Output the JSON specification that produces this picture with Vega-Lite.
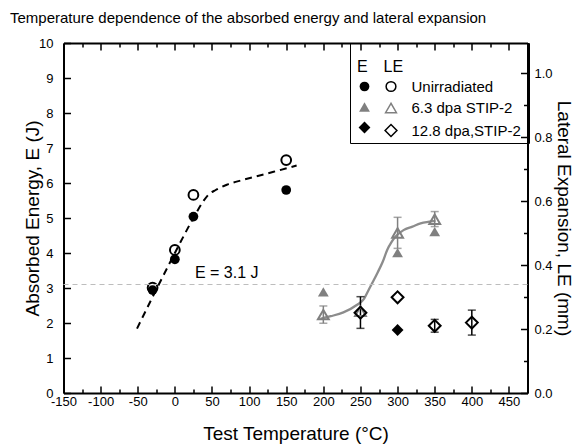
{
  "$schema": "https://vega.github.io/schema/vega-lite/v6.json",
  "width": 464,
  "height": 350,
  "autosize": {"type": "none"},
  "padding": {"left": 63.5, "top": 43, "right": 58.5, "bottom": 53},
  "background": "white",
  "config": {
    "font": "Liberation Sans",
    "view": {"stroke": null},
    "axis": {"grid": false, "domainColor": "black", "tickColor": "black", "labelColor": "black", "titleColor": "black", "titleFontWeight": "normal", "labelFont": "Liberation Sans", "titleFont": "Liberation Sans"},
    "legend": {"labelFont": "Liberation Sans", "titleFont": "Liberation Sans", "labelColor": "black", "titleColor": "black"}
  },
  "title": {"text": "Temperature dependence of the absorbed energy and lateral expansion", "anchor": "start", "frame": "group", "fontSize": 15, "fontWeight": "normal", "dx": -53.5, "dy": 21, "offset": 20, "baseline": "alphabetic", "color": "black"},
  "datasets": {
    "ePts": [
      {"T": -30, "E": 2.94, "series": "Unirradiated"},
      {"T": 0, "E": 3.82, "series": "Unirradiated"},
      {"T": 25, "E": 5.04, "series": "Unirradiated"},
      {"T": 150, "E": 5.8, "series": "Unirradiated"},
      {"T": 200, "E": 2.89, "series": "6.3 dpa STIP-2"},
      {"T": 300, "E": 4.01, "series": "6.3 dpa STIP-2"},
      {"T": 350, "E": 4.61, "series": "6.3 dpa STIP-2"},
      {"T": 300, "E": 1.8, "series": "12.8 dpa,STIP-2"}
    ],
    "lePts": [
      {"T": -30, "LE": 0.329, "series": "Unirradiated"},
      {"T": 0, "LE": 0.447, "series": "Unirradiated"},
      {"T": 25, "LE": 0.619, "series": "Unirradiated"},
      {"T": 150, "LE": 0.728, "series": "Unirradiated"},
      {"T": 200, "LE": 0.245, "series": "6.3 dpa STIP-2"},
      {"T": 250, "LE": 0.255, "series": "6.3 dpa STIP-2"},
      {"T": 300, "LE": 0.5, "series": "6.3 dpa STIP-2"},
      {"T": 350, "LE": 0.543, "series": "6.3 dpa STIP-2"},
      {"T": 250, "LE": 0.251, "series": "12.8 dpa,STIP-2"},
      {"T": 300, "LE": 0.299, "series": "12.8 dpa,STIP-2"},
      {"T": 350, "LE": 0.21, "series": "12.8 dpa,STIP-2"},
      {"T": 400, "LE": 0.22, "series": "12.8 dpa,STIP-2"}
    ],
    "leErr": [
      {"T": 200, "lo": 0.218, "hi": 0.272, "series": "6.3 dpa STIP-2"},
      {"T": 300, "lo": 0.452, "hi": 0.549, "series": "6.3 dpa STIP-2"},
      {"T": 350, "lo": 0.52, "hi": 0.567, "series": "6.3 dpa STIP-2"},
      {"T": 250, "lo": 0.202, "hi": 0.301, "series": "12.8 dpa,STIP-2"},
      {"T": 350, "lo": 0.19, "hi": 0.23, "series": "12.8 dpa,STIP-2"},
      {"T": 400, "lo": 0.181, "hi": 0.259, "series": "12.8 dpa,STIP-2"}
    ],
    "eCurve": [
      {"T": -51, "v": 1.84}, {"T": 0, "v": 4.0}, {"T": 25, "v": 5.0}, {"T": 38, "v": 5.47},
      {"T": 45, "v": 5.66}, {"T": 55, "v": 5.8}, {"T": 70, "v": 5.95}, {"T": 92, "v": 6.09},
      {"T": 133, "v": 6.32}, {"T": 164, "v": 6.5}
    ],
    "leCurve": [
      {"T": 196, "v": 0.232}, {"T": 210, "v": 0.24}, {"T": 227, "v": 0.252}, {"T": 245, "v": 0.275},
      {"T": 255, "v": 0.295}, {"T": 261, "v": 0.322}, {"T": 268, "v": 0.353}, {"T": 273, "v": 0.376},
      {"T": 280, "v": 0.41}, {"T": 286, "v": 0.447}, {"T": 292, "v": 0.472}, {"T": 297, "v": 0.488},
      {"T": 308, "v": 0.509}, {"T": 320, "v": 0.52}, {"T": 331, "v": 0.53}, {"T": 351, "v": 0.538}
    ],
    "one": [{"note": "annotation"}]
  },
  "layer": [
    {
      "data": {"name": "leCurve"},
      "mark": {"type": "line", "color": "#8c8c8c", "strokeWidth": 2.3, "interpolate": "monotone"},
      "encoding": {
        "x": {"field": "T", "type": "quantitative", "scale": {"domain": [-150, 475], "nice": false, "zero": false},
          "axis": {"orient": "top", "values": [-150,-125,-100,-75,-50,-25,0,25,50,75,100,125,150,175,200,225,250,275,300,325,350,375,400,425,450,475], "labels": false, "title": null, "domainWidth": 2, "tickWidth": 1.5, "tickSize": {"condition": {"test": "datum.value % 50 === 0", "value": -7}, "value": -4}}},
        "y": {"field": "v", "type": "quantitative", "scale": {"domain": [0, 1.09375], "nice": false, "zero": false},
          "axis": {"orient": "right", "values": [0,0.1,0.2,0.3,0.4,0.5,0.6,0.7,0.8,0.9,1.0], "labelExpr": "round(datum.value*10) % 2 === 0 ? format(datum.value, '.1f') : ''", "tickSize": {"condition": {"test": "round(datum.value*10) % 2 === 0", "value": -7}, "value": -4}, "tickWidth": 1.5, "domainWidth": 2, "labelPadding": 13.5, "labelFontSize": 13, "labelFlush": false, "title": "Lateral Expansion, LE (mm)", "titleFontSize": 19, "titleX": 35.5, "titleY": 175, "titleAngle": 90, "titleBaseline": "middle", "titleAlign": "center"}}
      }
    },
    {
      "data": {"name": "leErr"},
      "mark": {"type": "errorbar", "ticks": {"size": 8}, "thickness": 1.5},
      "encoding": {
        "x": {"field": "T", "type": "quantitative", "scale": {"domain": [-150, 475], "nice": false, "zero": false}, "axis": null},
        "y": {"field": "lo", "type": "quantitative", "scale": {"domain": [0, 1.09375], "nice": false, "zero": false}, "axis": null},
        "y2": {"field": "hi"},
        "color": {"field": "series", "type": "nominal", "scale": {"domain": ["Unirradiated", "6.3 dpa STIP-2", "12.8 dpa,STIP-2"], "range": ["black", "#808080", "black"]}, "legend": null}
      }
    },
    {
      "data": {"name": "lePts"},
      "mark": {"type": "point", "filled": false, "strokeWidth": 2, "opacity": 1},
      "encoding": {
        "x": {"field": "T", "type": "quantitative", "scale": {"domain": [-150, 475], "nice": false, "zero": false}, "axis": null},
        "y": {"field": "LE", "type": "quantitative", "scale": {"domain": [0, 1.09375], "nice": false, "zero": false}, "axis": null},
        "shape": {"field": "series", "type": "nominal", "scale": {"domain": ["Unirradiated", "6.3 dpa STIP-2", "12.8 dpa,STIP-2"], "range": ["circle", "triangle-up", "diamond"]},
          "legend": {"title": [" ", "LE"], "titleLineHeight": 9, "orient": "none", "legendX": 313, "legendY": 0, "padding": 7, "labelOffset": 13, "labelFontSize": 15, "titleFontSize": 16, "titleFontWeight": "normal", "titlePadding": 4, "rowPadding": 4.5, "symbolStrokeWidth": 1.5}},
        "color": {"field": "series", "type": "nominal", "scale": {"domain": ["Unirradiated", "6.3 dpa STIP-2", "12.8 dpa,STIP-2"], "range": ["black", "#808080", "black"]},
          "legend": {"title": [" ", "LE"], "titleLineHeight": 9, "orient": "none", "legendX": 313, "legendY": 0, "padding": 7, "labelOffset": 13, "labelFontSize": 15, "titleFontSize": 16, "titleFontWeight": "normal", "titlePadding": 4, "rowPadding": 4.5, "symbolStrokeWidth": 1.5}},
        "size": {"field": "series", "type": "nominal", "scale": {"domain": ["Unirradiated", "6.3 dpa STIP-2", "12.8 dpa,STIP-2"], "range": [95, 140, 180]},
          "legend": {"title": [" ", "LE"], "titleLineHeight": 9, "orient": "none", "legendX": 313, "legendY": 0, "padding": 7, "labelOffset": 13, "labelFontSize": 15, "titleFontSize": 16, "titleFontWeight": "normal", "titlePadding": 4, "rowPadding": 4.5, "symbolStrokeWidth": 1.5}}
      }
    },
    {
      "data": {"name": "one"},
      "mark": {"type": "rule", "color": "#bdbdbd", "strokeDash": [5, 4], "strokeWidth": 1.2},
      "encoding": {
        "y": {"datum": 3.1, "type": "quantitative", "scale": {"domain": [0, 10], "nice": false, "zero": false},
          "axis": {"orient": "left", "values": [0,1,2,3,4,5,6,7,8,9,10], "tickSize": -7, "tickWidth": 1.5, "domainWidth": 2, "labelPadding": 17.5, "labelFontSize": 13, "labelFlush": false, "title": "Absorbed Energy, E (J)", "titleFontSize": 19, "titleX": -31.5, "titleY": 175, "titleAngle": -90, "titleBaseline": "middle", "titleAlign": "center"}}
      }
    },
    {
      "data": {"name": "one"},
      "mark": {"type": "text", "text": "E = 3.1 J", "align": "left", "baseline": "middle", "fontSize": 16, "color": "black"},
      "encoding": {
        "x": {"datum": 27, "type": "quantitative", "scale": {"domain": [-150, 475], "nice": false, "zero": false}, "axis": null},
        "y": {"datum": 3.42, "type": "quantitative", "scale": {"domain": [0, 10], "nice": false, "zero": false}, "axis": null}
      }
    },
    {
      "data": {"name": "eCurve"},
      "mark": {"type": "line", "color": "black", "strokeDash": [7, 5], "strokeWidth": 2, "interpolate": "monotone"},
      "encoding": {
        "x": {"field": "T", "type": "quantitative", "scale": {"domain": [-150, 475], "nice": false, "zero": false},
          "axis": {"orient": "bottom", "values": [-150,-125,-100,-75,-50,-25,0,25,50,75,100,125,150,175,200,225,250,275,300,325,350,375,400,425,450,475], "labelExpr": "datum.value % 50 === 0 ? '' + datum.value : ''", "labelFontSize": 13, "labelPadding": 9, "labelFlush": false, "labelOverlap": false, "tickSize": {"condition": {"test": "datum.value % 50 === 0", "value": -7}, "value": -4}, "tickWidth": 1.5, "domainWidth": 2, "title": "Test Temperature (°C)", "titleFontSize": 19, "titleX": 232, "titleY": 40, "titleBaseline": "middle"}},
        "y": {"field": "v", "type": "quantitative", "scale": {"domain": [0, 10], "nice": false, "zero": false}, "axis": null}
      }
    },
    {
      "data": {"name": "ePts"},
      "mark": {"type": "point", "filled": true, "opacity": 1, "strokeWidth": 0},
      "encoding": {
        "x": {"field": "T", "type": "quantitative", "scale": {"domain": [-150, 475], "nice": false, "zero": false}, "axis": null},
        "y": {"field": "E", "type": "quantitative", "scale": {"domain": [0, 10], "nice": false, "zero": false}, "axis": null},
        "shape": {"field": "series", "type": "nominal", "scale": {"domain": ["Unirradiated", "6.3 dpa STIP-2", "12.8 dpa,STIP-2"], "range": ["circle", "triangle-up", "diamond"]},
          "legend": {"title": [" ", "E"], "titleLineHeight": 9, "orient": "none", "legendX": 286.5, "legendY": 0, "padding": 7, "labelOffset": 150, "labelExpr": "''", "labelFontSize": 15, "titleFontSize": 16, "titleFontWeight": "normal", "titlePadding": 4, "rowPadding": 4.5, "strokeColor": "black", "symbolStrokeWidth": 0}},
        "fill": {"field": "series", "type": "nominal", "scale": {"domain": ["Unirradiated", "6.3 dpa STIP-2", "12.8 dpa,STIP-2"], "range": ["black", "#808080", "black"]},
          "legend": {"title": [" ", "E"], "titleLineHeight": 9, "orient": "none", "legendX": 286.5, "legendY": 0, "padding": 7, "labelOffset": 150, "labelExpr": "''", "labelFontSize": 15, "titleFontSize": 16, "titleFontWeight": "normal", "titlePadding": 4, "rowPadding": 4.5, "strokeColor": "black", "symbolStrokeWidth": 0}},
        "size": {"field": "series", "type": "nominal", "scale": {"domain": ["Unirradiated", "6.3 dpa STIP-2", "12.8 dpa,STIP-2"], "range": [95, 140, 180]},
          "legend": {"title": [" ", "E"], "titleLineHeight": 9, "orient": "none", "legendX": 286.5, "legendY": 0, "padding": 7, "labelOffset": 150, "labelExpr": "''", "labelFontSize": 15, "titleFontSize": 16, "titleFontWeight": "normal", "titlePadding": 4, "rowPadding": 4.5, "strokeColor": "black", "symbolStrokeWidth": 0}}
      }
    }
  ],
  "resolve": {
    "scale": {"y": "independent", "shape": "independent", "fill": "independent", "color": "independent", "size": "independent"},
    "axis": {"x": "independent", "y": "independent"},
    "legend": {"shape": "independent", "fill": "independent", "color": "independent", "size": "independent"}
  }
}
